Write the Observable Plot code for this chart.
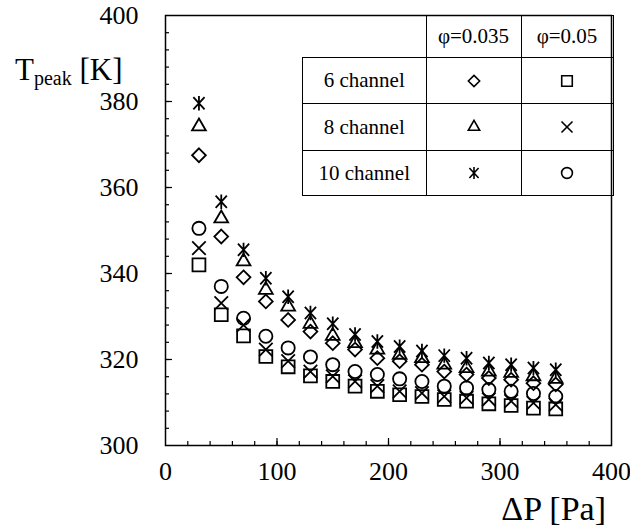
<!DOCTYPE html>
<html>
<head>
<meta charset="utf-8">
<script src="https://cdn.jsdelivr.net/npm/d3@7"></script>
<script src="https://cdn.jsdelivr.net/npm/@observablehq/plot@0.6"></script>
<style>
  html, body { margin: 0; padding: 0; background: #fff; }
  #wrap { position: relative; width: 630px; height: 531px; font-family: "Liberation Serif", "Times New Roman", serif; }
  #legend { position: absolute; left: 302px; top: 15px; border-collapse: collapse; font-size: 21px; color: #000; font-family: "Liberation Serif", "Times New Roman", serif; }
  #legend td { border: 1.5px solid #000; padding: 0; text-align: center; vertical-align: middle; }
  #legend td.blank { border: none; }
</style>
</head>
<body>
<div id="wrap"></div>
<script>
// ---- data ----
const pressure = [30, 50, 70, 90, 110, 130, 150, 170, 190, 210, 230, 250, 270, 290, 310, 330, 350];
const ch6_phi035 = [367.5, 348.6, 339.1, 333.5, 329.2, 326.5, 323.8, 322.3, 320.3, 319.6, 318.8, 317.2, 316.5, 315.7, 315.3, 314.5, 314.2];
const ch6_phi05  = [342.0, 330.4, 325.5, 320.7, 318.3, 316.2, 314.9, 313.8, 312.6, 311.8, 311.4, 310.7, 310.3, 309.7, 309.3, 308.7, 308.5];
const ch8_phi035 = [374.2, 352.8, 342.8, 336.2, 332.3, 328.3, 325.5, 323.8, 322.3, 321.1, 320.3, 318.8, 318.0, 317.2, 316.9, 316.1, 315.5];
const ch8_phi05  = [345.9, 333.1, 328.0, 322.3, 319.6, 317.2, 316.1, 314.9, 313.8, 312.6, 312.2, 311.4, 311.1, 310.7, 310.3, 309.9, 309.5];
const ch10_phi035 = [379.6, 356.7, 345.5, 338.9, 334.6, 330.8, 328.3, 325.8, 324.2, 323.0, 322.0, 320.9, 320.3, 319.2, 318.8, 318.0, 317.6];
const ch10_phi05  = [350.5, 337.0, 329.6, 325.4, 322.7, 320.6, 318.8, 317.2, 316.5, 315.5, 314.9, 313.8, 313.4, 313.0, 312.6, 312.1, 311.4];

const rowLabels = ["6 channel", "8 channel", "10 channel"];
const colLabels = ["φ=0.035", "φ=0.05"];
const xTickLabels = [0, 100, 200, 300, 400];
const yTickLabels = [300, 320, 340, 360, 380, 400];
const xTitle = "ΔP [Pa]";
const yTitleMain = "T", yTitleSub = "peak", yTitleUnit = " [K]";

// ---- symbols ----
const asteriskSym = {
  draw(ctx, size) {
    const r = Math.sqrt(size / Math.PI);
    const w = r * 0.78, h = r * 0.85;
    ctx.moveTo(0, -r); ctx.lineTo(0, r);
    ctx.moveTo(-w, -h); ctx.lineTo(w, h);
    ctx.moveTo(-w, h); ctx.lineTo(w, -h);
  }
};
const series = [
  {values: ch6_phi035, symbol: d3.symbolDiamond2, r: 6.2},
  {values: ch6_phi05, symbol: d3.symbolSquare2, r: 8.2},
  {values: ch8_phi035, symbol: d3.symbolTriangle2, r: 6.6},
  {values: ch8_phi05, symbol: d3.symbolTimes, r: 6.2},
  {values: ch10_phi035, symbol: asteriskSym, r: 7.2},
  {values: ch10_phi05, symbol: d3.symbolCircle, r: 6.6}
];

const fmtBlank = () => "";
const FONT = "'Liberation Serif', 'Times New Roman', serif";
const chart = Plot.plot({
  width: 630, height: 531,
  marginLeft: 165, marginRight: 19, marginTop: 15, marginBottom: 86,
  style: {fontFamily: FONT, background: "white", color: "black", overflow: "visible"},
  x: {domain: [0, 400], label: null},
  y: {domain: [300, 400], label: null},
  marks: [
    Plot.axisX({ticks: d3.range(20, 400, 20), tickSize: -4, tickFormat: fmtBlank, strokeWidth: 1.2, label: null}),
    Plot.axisX({ticks: [100, 200, 300], tickSize: -7, tickFormat: fmtBlank, strokeWidth: 1.2, label: null}),
    Plot.axisX({ticks: xTickLabels, tickSize: 0, tickPadding: 16, fontSize: 26, label: null}),
    Plot.axisY({ticks: d3.range(304, 400, 4), tickSize: -4, tickFormat: fmtBlank, strokeWidth: 1.2, label: null}),
    Plot.axisY({ticks: [320, 340, 360, 380], tickSize: -7, tickFormat: fmtBlank, strokeWidth: 1.2, label: null}),
    Plot.axisY({ticks: yTickLabels, tickSize: 0, tickPadding: 27, fontSize: 26, label: null}),
    ...series.map(s => Plot.dot(pressure.map((p, i) => ({p, t: s.values[i]})), {
      x: "p", y: "t", symbol: s.symbol, r: s.r, stroke: "black", fill: "none", strokeWidth: 1.8
    })),
    Plot.frame({stroke: "black", strokeWidth: 1.5})
  ]
});

const wrap = document.getElementById("wrap");
wrap.appendChild(chart);

// axis titles
const svg = d3.select(chart);
const yt = svg.append("text").attr("x", 15).attr("y", 80).attr("text-anchor", "start")
  .style("font-family", FONT).attr("fill", "black");
yt.append("tspan").attr("font-size", 31).text(yTitleMain);
yt.append("tspan").attr("font-size", 20).attr("dy", 5).text(yTitleSub);
yt.append("tspan").attr("font-size", 31).attr("dy", -5).text(yTitleUnit);
svg.append("text").attr("x", 606).attr("y", 520).attr("text-anchor", "end")
  .style("font-family", FONT)
  .attr("font-size", 34).attr("fill", "black").text(xTitle);

// legend table
const legendSymbols = [[series[0], series[1]], [series[2], series[3]], [series[4], series[5]]];
const table = d3.select(wrap).append("table").attr("id", "legend");
const colW = [123, 94, 91];
const rowH = [42, 46, 47, 45];
const head = table.append("tr").style("height", rowH[0] + "px");
head.append("td").attr("class", "blank").style("width", colW[0] + "px");
colLabels.forEach((c, j) => head.append("td").style("width", colW[j + 1] + "px").text(c));
rowLabels.forEach((lab, i) => {
  const tr = table.append("tr").style("height", rowH[i + 1] + "px");
  tr.append("td").text(lab);
  legendSymbols[i].forEach(s => {
    const td = tr.append("td");
    const sv = td.append("svg").attr("width", 18).attr("height", 18).style("display", "block").style("margin", "auto");
    const rr = s.r * 0.82;
    sv.append("path").attr("transform", "translate(9,9)")
      .attr("d", d3.symbol(s.symbol, rr * rr * Math.PI)())
      .attr("fill", "none").attr("stroke", "black").attr("stroke-width", 1.6);
  });
});
</script>
</body>
</html>
